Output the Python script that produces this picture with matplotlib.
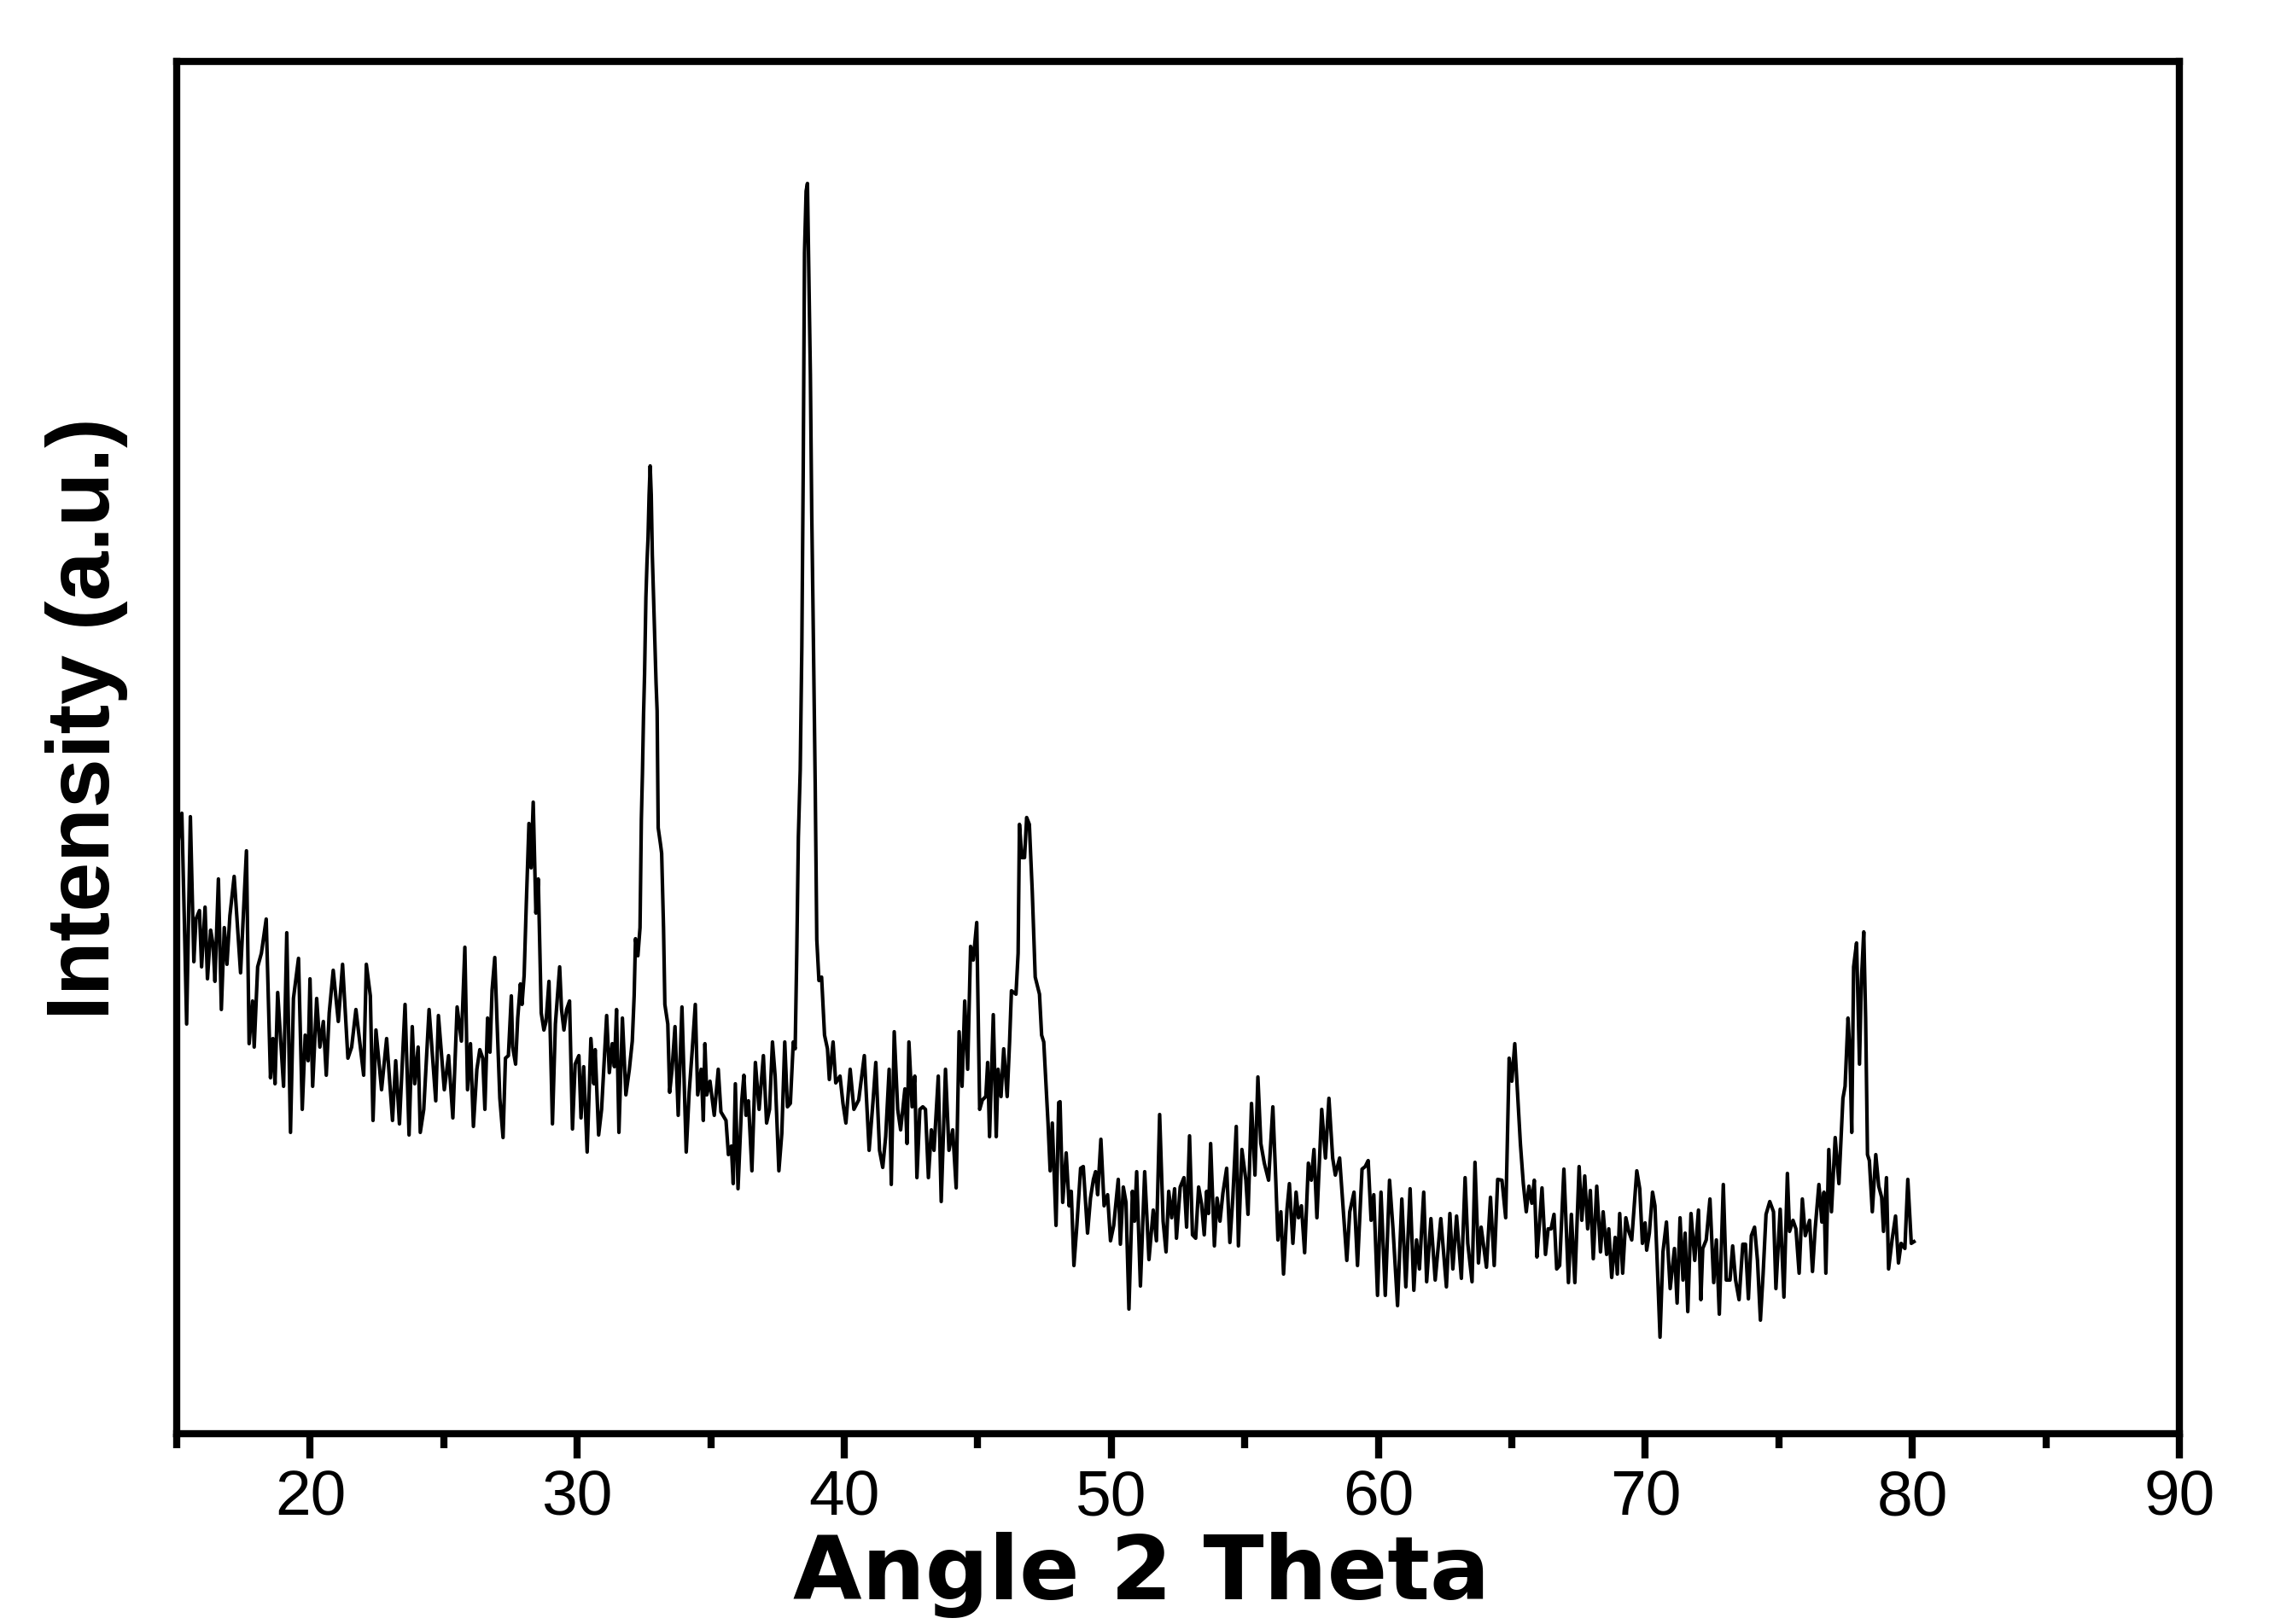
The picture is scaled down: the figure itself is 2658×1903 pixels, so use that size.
import matplotlib
matplotlib.use("Agg")
import matplotlib.pyplot as plt
from matplotlib.ticker import MultipleLocator, FixedLocator

plt.rcParams['font.family'] = ['Liberation Sans', 'DejaVu Sans']

# XRD pattern (2 theta in degrees, intensity in a.u.)
two_theta = [
    15.00, 15.19, 15.29, 15.37, 15.42, 15.51, 15.64, 15.72, 15.85, 15.93,
    16.06, 16.15, 16.27, 16.36, 16.43, 16.56, 16.67, 16.78, 16.88, 16.99,
    17.15, 17.39, 17.61, 17.71, 17.84, 17.90, 18.03, 18.17, 18.35, 18.51,
    18.60, 18.68, 18.78, 19.00, 19.12, 19.26, 19.37, 19.56, 19.70, 19.81,
    19.92, 19.99, 20.09, 20.24, 20.36, 20.49, 20.60, 20.71, 20.86, 21.05,
    21.21, 21.41, 21.55, 21.71, 22.00, 22.10, 22.25, 22.35, 22.46, 22.67,
    22.86, 23.08, 23.20, 23.34, 23.55, 23.70, 23.82, 23.91, 24.04, 24.12,
    24.25, 24.45, 24.70, 24.80, 25.02, 25.18, 25.34, 25.50, 25.66, 25.79,
    25.89, 26.00, 26.11, 26.24,
    26.35, 26.46, 26.54, 26.64, 26.73, 26.81, 26.91, 26.99, 27.10, 27.22,
    27.31, 27.42, 27.53, 27.58, 27.69, 27.77, 27.87, 27.93, 28.01, 28.09,
    28.19, 28.27, 28.35, 28.45, 28.54, 28.65, 28.75, 28.83, 28.94, 29.07,
    29.18, 29.34, 29.41, 29.50, 29.60, 29.71, 29.82, 29.92, 30.06, 30.14,
    30.24, 30.37, 30.51, 30.62, 30.67, 30.80, 30.91, 31.10, 31.20, 31.31,
    31.39, 31.47, 31.56, 31.69, 31.82, 31.95, 32.06, 32.13, 32.18, 32.27,
    32.35, 32.40, 32.44, 32.48, 32.52, 32.57, 32.61, 32.65, 32.69, 32.73,
    32.77, 32.81, 32.86, 32.91, 32.95, 32.99, 33.01, 33.03, 33.12, 33.16,
    33.23, 33.28, 33.39, 33.46, 33.55, 33.66, 33.78, 33.92, 34.08, 34.19,
    34.30, 34.42, 34.51, 34.64, 34.72, 34.78, 34.85, 34.97, 35.13, 35.28,
    35.38, 35.57, 35.66, 35.77, 35.84, 35.92, 36.02, 36.16, 36.24, 36.32,
    36.41,
    36.54, 36.67, 36.81, 36.97, 37.09, 37.20, 37.31, 37.41, 37.55, 37.66,
    37.77, 37.87, 37.98, 38.09, 38.16, 38.22, 38.28, 38.35, 38.41, 38.46,
    38.51, 38.57, 38.62, 38.67, 38.73, 38.78, 38.83, 38.91, 38.97, 39.05,
    39.15, 39.26, 39.37, 39.44, 39.58, 39.68, 39.84, 39.95, 40.06, 40.22,
    40.36, 40.54, 40.75, 40.93, 41.07, 41.18, 41.32, 41.44, 41.55, 41.68,
    41.76, 41.87, 42.00, 42.11, 42.27, 42.35, 42.42, 42.54, 42.64, 42.72,
    42.83, 42.94, 43.04, 43.15, 43.26, 43.36, 43.52, 43.63, 43.79, 43.92,
    44.06, 44.19, 44.30, 44.41, 44.51, 44.62, 44.73, 44.83, 44.96, 45.07,
    45.17, 45.30, 45.37, 45.44, 45.58, 45.69, 45.76, 45.87, 45.97, 46.10,
    46.19, 46.26, 46.43, 46.51, 46.56, 46.65, 46.75, 46.83, 46.93, 47.04,
    47.15, 47.31, 47.39, 47.47, 47.63, 47.71, 47.79, 47.93, 48.03,
    48.08, 48.18, 48.31, 48.42, 48.50, 48.60, 48.71, 48.85, 48.95, 49.11,
    49.22, 49.33, 49.41, 49.49, 49.61, 49.73, 49.86, 49.97, 50.09, 50.26,
    50.34, 50.45, 50.55, 50.66, 50.79, 50.87, 50.95, 51.09, 51.25, 51.41,
    51.57, 51.69, 51.81, 51.94, 52.05, 52.15, 52.26, 52.37, 52.44, 52.58,
    52.72, 52.82, 52.93, 53.04, 53.16, 53.27, 53.38, 53.48, 53.57, 53.64,
    53.72, 53.86, 53.96, 54.07, 54.18, 54.32, 54.44, 54.55, 54.68, 54.76,
    54.89,
    55.04, 55.12, 55.25, 55.38, 55.49, 55.60, 55.73, 55.89, 56.05, 56.16,
    56.24, 56.35, 56.45, 56.58, 56.67, 56.80, 56.92, 57.01, 57.12, 57.24,
    57.38, 57.49, 57.59, 57.70, 57.88, 58.02, 58.15, 58.29, 58.39, 58.55,
    58.69, 58.82, 58.93, 59.09, 59.22, 59.39, 59.51, 59.62, 59.73, 59.83,
    59.97, 60.10, 60.26, 60.42, 60.55, 60.72, 60.88, 61.03, 61.19, 61.33,
    61.43, 61.54, 61.70, 61.81, 61.97, 62.13, 62.34, 62.55, 62.68, 62.79,
    62.93, 63.11, 63.25, 63.35, 63.51, 63.62, 63.75, 63.85, 64.05, 64.20,
    64.34, 64.47, 64.63, 64.77, 64.90, 65.00, 65.11, 65.20, 65.32, 65.43,
    65.54, 65.64, 65.75, 65.84, 65.94,
    66.02, 66.13, 66.26, 66.36, 66.47, 66.58, 66.68, 66.79, 66.95, 67.12,
    67.23, 67.36, 67.52, 67.62, 67.73, 67.84, 67.94, 68.05, 68.18, 68.32,
    68.42, 68.55, 68.63, 68.74, 68.87, 68.95, 69.04, 69.15, 69.27, 69.38,
    69.49, 69.68, 69.79, 69.89, 69.99, 70.05, 70.15, 70.27, 70.36, 70.47,
    70.55, 70.66, 70.79, 70.93, 71.09, 71.19, 71.30, 71.41, 71.49, 71.59,
    71.71, 71.85, 71.99, 72.08, 72.15, 72.28, 72.42, 72.56, 72.66, 72.77,
    72.92, 73.03, 73.17, 73.27, 73.38, 73.51, 73.65, 73.75, 73.86, 73.97,
    74.09, 74.20, 74.31, 74.41, 74.52, 74.66, 74.80, 74.89, 75.05, 75.19,
    75.32, 75.40, 75.53, 75.64, 75.76, 75.88, 75.99, 76.15, 76.26, 76.36,
    76.50, 76.61, 76.69, 76.76, 76.87, 76.97, 77.11, 77.25, 77.32, 77.40,
    77.48, 77.59, 77.66, 77.73, 77.80, 77.91, 78.02, 78.09, 78.18, 78.25,
    78.32, 78.39, 78.50, 78.63, 78.74, 78.85, 78.92, 79.03, 79.11, 79.24,
    79.37, 79.48, 79.58, 79.72, 79.83, 79.96, 80.06,
]

intensity = [
    680, 727, 593, 480, 567, 723, 553, 603, 613, 547,
    617, 533, 590, 573, 530, 650, 497, 593, 550, 607,
    653, 540, 683, 457, 507, 453, 547, 563, 603, 417,
    463, 410, 517, 407, 587, 353, 510, 557, 380, 467,
    437, 533, 407, 510, 453, 483, 420, 493, 543, 483,
    550, 440, 453, 497, 420, 550, 513, 367, 473, 403,
    463, 367, 437, 363, 503, 350, 477, 410, 453, 353,
    380, 497, 390, 490, 403, 443, 370, 500, 460, 570,
    403, 457, 360, 427,
    450, 440, 380, 487, 447, 520, 558, 487, 393, 347,
    440, 443, 513, 453, 433, 487, 527, 503, 537, 620,
    715, 663, 740, 610, 650, 493, 473, 483, 530, 363,
    480, 547, 497, 473, 497, 507, 357, 433, 443, 370,
    430, 330, 463, 410, 450, 350, 380, 490, 423, 457,
    430, 497, 353, 487, 397, 427, 460, 513, 580, 560,
    593, 720, 773, 840, 890, 980, 1020, 1050, 1100, 1134,
    1100, 1030, 977, 923, 880, 847, 777, 710, 690, 680,
    593, 503, 480, 400, 427, 477, 373, 500, 330, 400,
    447, 503, 397, 427, 367, 457, 397, 413, 373, 427,
    377, 367, 327, 337, 293, 410, 287, 390, 420, 373,
    390,
    308, 435, 380, 443, 364, 380, 459, 419, 308, 352,
    459, 383, 387, 459, 451, 563, 699, 778, 922, 1121,
    1384, 1456, 1465, 1360, 1241, 1081, 962, 762, 579, 531,
    535, 467, 451, 415, 459, 411, 419, 387, 364, 427,
    380, 391, 443, 332, 387, 435, 332, 312, 348, 427,
    292, 471, 380, 356, 404, 340, 459, 383, 419, 300,
    380, 383, 380, 300, 356, 332, 419, 272, 427, 332,
    356, 288, 471, 407, 507, 427, 571, 555, 599, 380,
    391, 395, 435, 348, 491, 348, 427, 395, 451, 395,
    459, 519, 515, 563, 714, 675, 675, 722, 714, 635,
    535, 515, 467, 459, 364, 308, 364, 244, 388,
    389, 271, 329, 267, 284, 197, 244, 311, 313, 235,
    276, 298, 307, 280, 345, 267, 280, 226, 244, 298,
    222, 289, 271, 146, 284, 249, 307, 173, 307, 204,
    262, 226, 374, 249, 213, 284, 253, 287, 229, 289,
    300, 242, 349, 233, 229, 289, 269, 233, 284, 258,
    340, 220, 276, 249, 282, 311, 224, 276, 360, 220,
    333,
    297, 257, 387, 303, 418, 340, 317, 297, 383, 297,
    227, 260, 187, 263, 293, 223, 283, 253, 267, 212,
    317, 297, 333, 253, 380, 323, 393, 323, 303, 323,
    260, 203, 260, 283, 197, 310, 313, 320, 250, 280,
    162, 283, 162, 297, 240, 150, 275, 172, 287, 168,
    227, 193, 283, 178, 252, 180, 252, 172, 258, 193,
    255, 182, 300, 223, 178, 318, 200, 242, 195, 277,
    197, 298, 297, 253, 440, 413, 457, 407, 340, 293,
    260, 290, 270, 297, 207,
    240, 288, 210, 240, 240, 257, 193, 197, 310, 177,
    257, 177, 313, 250, 302, 240, 285, 205, 290, 213,
    260, 210, 240, 183, 230, 187, 258, 188, 253, 237,
    227, 308, 287, 223, 247, 215, 235, 283, 267, 180,
    113, 213, 248, 170, 217, 153, 253, 180, 235, 143,
    258, 203, 262, 157, 217, 227, 275, 177, 227, 140,
    292, 180, 180, 220, 180, 157, 222, 222, 158, 232,
    242, 203, 133, 187, 257, 272, 260, 170, 263, 160,
    305, 237, 250, 240, 188, 275, 232, 250, 190, 240,
    292, 248, 283, 188, 333, 260, 347, 293, 340, 393,
    407, 487, 447, 353, 547, 575, 433, 530, 588, 487,
    327, 320, 260, 327, 290, 277, 237, 300, 193, 227,
    255, 200, 223, 217, 298, 223, 225,
]

fig = plt.figure(figsize=(2658 / 300, 1903 / 300), dpi=300)
ax = fig.add_axes([0.0779, 0.1172, 0.8826, 0.8450])

ax.plot(two_theta, intensity, color='black', linewidth=1.0)

ax.set_xlim(15, 90)
ax.set_ylim(0, 1608)

ax.xaxis.set_major_locator(MultipleLocator(10))
ax.xaxis.set_minor_locator(FixedLocator([15, 25, 35, 45, 55, 65, 75, 85]))
ax.set_xticks(range(20, 91, 10))
ax.set_yticks([])
ax.tick_params(axis='x', which='major', direction='out', length=7, width=2,
               labelsize=18, pad=3)
ax.tick_params(axis='x', which='minor', direction='out', length=4, width=2)

for side in ax.spines.values():
    side.set_linewidth(2)

# the x title in the picture is wide and low, DejaVu Sans Bold fits it best
ax.set_xlabel("Angle 2 Theta", fontsize=25, fontweight='bold', va='baseline',
              family=['DejaVu Sans'])
ax.xaxis.set_label_coords(0.4817, -0.1205)
ax.set_ylabel("Intensity (a.u.)", fontsize=25, fontweight='bold', va='center')
ax.yaxis.set_label_coords(-0.0448, 0.521)

fig.savefig("out.png", dpi=300)
